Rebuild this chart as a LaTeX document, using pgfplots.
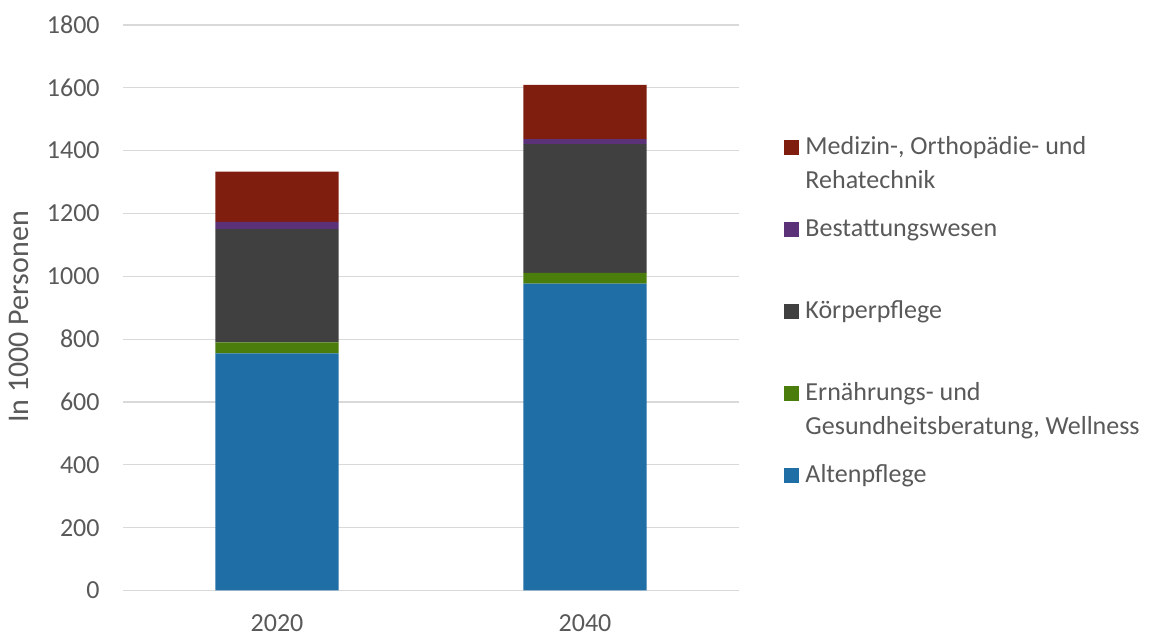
\documentclass[border=0pt]{standalone}
\usepackage{pgfplots}
\pgfplotsset{compat=1.18}
\usepackage{pgfplotstable}
\usepackage{fontspec}
\setmainfont{Carlito}
\definecolor{textgray}{HTML}{595959}
\definecolor{gridgray}{HTML}{D9D9D9}
\definecolor{cAlten}{HTML}{1F6EA6}
\definecolor{cErn}{HTML}{4A7D0C}
\definecolor{cKoer}{HTML}{404040}
\definecolor{cBest}{HTML}{5B3178}
\definecolor{cMed}{HTML}{7F1D0F}
\newcommand{\lent}[1]{\parbox[t][41pt][t]{180pt}{\leavevmode\fontsize{13}{17}\selectfont\strut #1}}
\pgfplotstableread{
x alten ernaehrung koerper bestattung medizin
0 755 35 360 23 160
1 977 34 410 16 172
}\data
\begin{document}
\begin{tikzpicture}
\begin{axis}[
  at={(61.5pt,22.25pt)}, anchor=south west,
  scale only axis, width=308pt, height=282.75pt,
  ybar stacked, bar width=0.4,
  xmin=-0.5, xmax=1.5, ymin=0, ymax=1800,
  xtick={0,1}, xticklabels={2020,2040},
  ytick={0,200,...,1800},
  ymajorgrids, grid style={gridgray, line width=0.6pt},
  axis line style={draw=none},
  major tick length=0pt,
  /pgf/number format/assume math mode=true,
  /pgf/number format/1000 sep={},
  tick label style={font=\fontsize{13}{15}\selectfont, text=textgray, inner sep=0pt},
  yticklabel style={anchor=east, xshift=-11.5pt},
  xticklabel style={anchor=base, yshift=-20.5pt},
  ylabel={In 1000 Personen},
  ylabel style={font=\fontsize{15}{17}\selectfont, text=textgray, at={(axis description cs:-0.1526,0.4836)}, anchor=base, inner sep=0pt},
  legend image code/.code={\path[#1, draw=none] (0pt,0pt) rectangle (7.5pt,7.5pt);},
  reverse legend,
  legend style={draw=none, fill=none, inner sep=0pt, row sep=0pt, column sep=3.4pt,
    text=textgray,
    at={(axis description cs:1.0719,0.8133)}, anchor=north west,
    nodes={inner sep=0pt, text depth=}, cells={anchor=base west}},
]
\addplot[fill=cAlten, draw=none] table[x=x, y=alten] {\data};
\addlegendentry{\lent{Altenpflege}}
\addplot[fill=cErn, draw=none] table[x=x, y=ernaehrung] {\data};
\addlegendentry{\lent{Ernährungs- und\\Gesundheitsberatung, Wellness}}
\addplot[fill=cKoer, draw=none] table[x=x, y=koerper] {\data};
\addlegendentry{\lent{Körperpflege}}
\addplot[fill=cBest, draw=none] table[x=x, y=bestattung] {\data};
\addlegendentry{\lent{Bestattungswesen}}
\addplot[fill=cMed, draw=none] table[x=x, y=medizin] {\data};
\addlegendentry{\lent{Medizin-, Orthopädie- und\\Rehatechnik}}
\end{axis}
\pgfresetboundingbox
\path[use as bounding box] (0,0) rectangle (576.5pt,317.5pt);
\end{tikzpicture}
\end{document}
